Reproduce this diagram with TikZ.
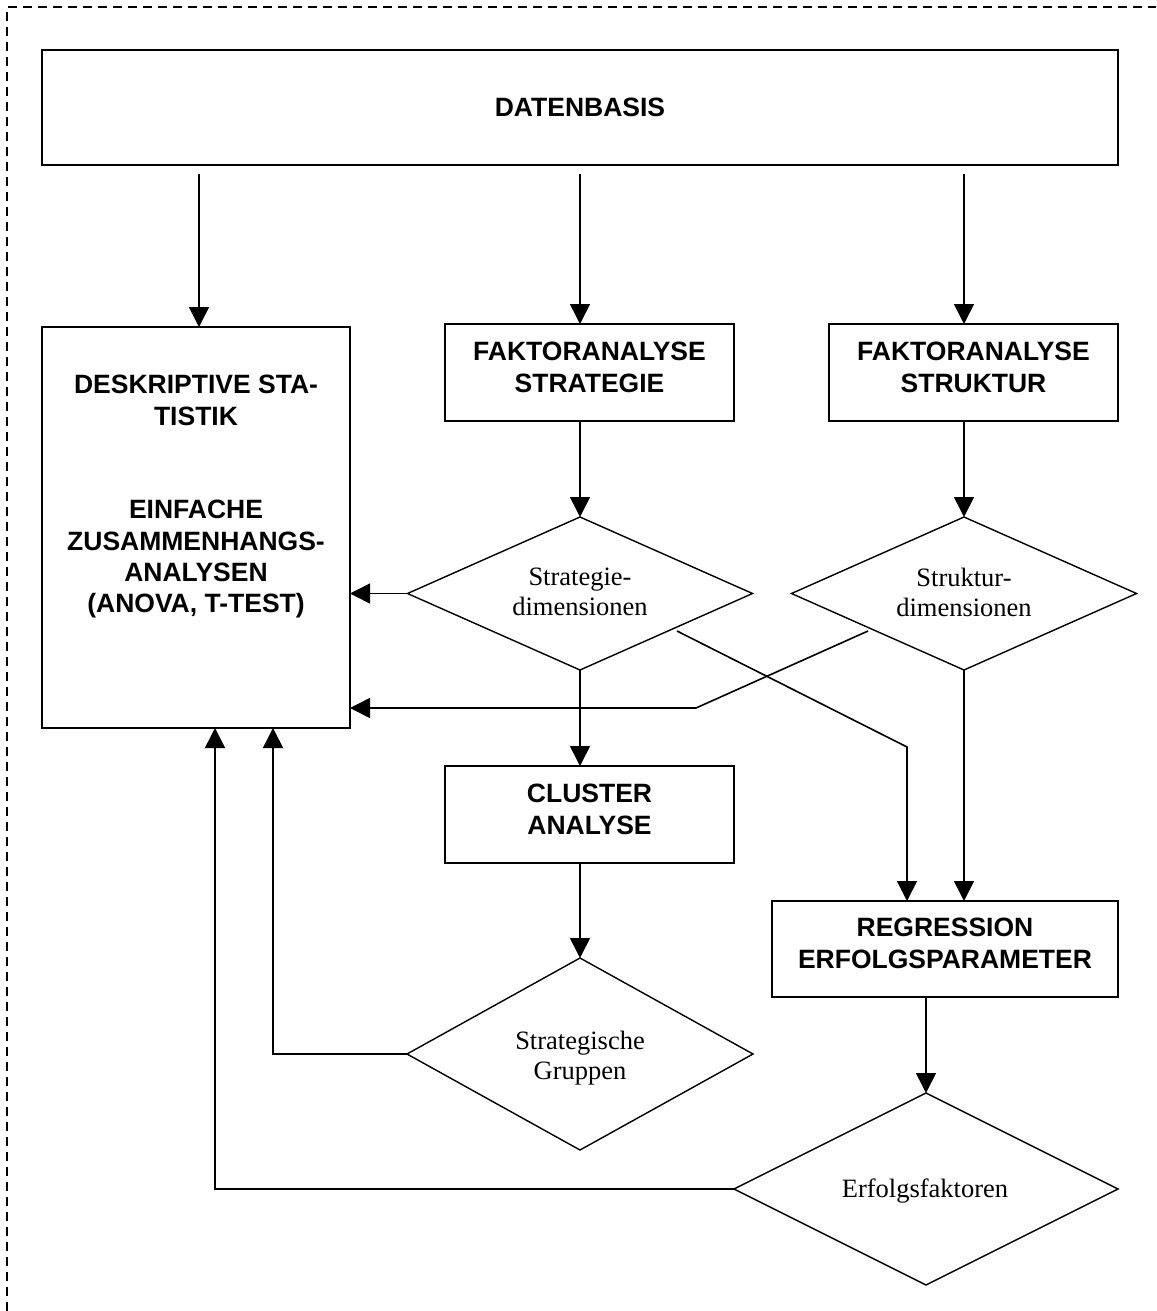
\documentclass[tikz,border=0pt]{standalone}
\usepackage{fontspec}
\setmainfont{Liberation Serif}
\newfontfamily\arialfont{Liberation Sans}
\usetikzlibrary{arrows.meta,shapes.geometric,calc}
\begin{document}
\begin{tikzpicture}[x=1pt,y=-1pt,
  box/.style={draw,rectangle,line width=1.8pt,inner sep=0pt,outer sep=0pt},
  dia/.style={draw,diamond,line width=1.4pt,inner sep=0pt,outer sep=0pt},
  btxt/.style={font=\arialfont\bfseries\fontsize{26.5}{31.3}\selectfont,align=center,inner sep=0pt,anchor=north},
  stxt/.style={font=\fontsize{26.5}{30}\selectfont,align=center,inner sep=0pt,anchor=north},
  arr/.style={line width=1.6pt,-{Triangle[length=20pt,width=20pt]}},
  frame/.style={line width=1.8pt,dash pattern=on 9pt off 6pt}]
\useasboundingbox (0,0) rectangle (1156,1311);
\draw[frame] (7,1311) -- (7,7) -- (1156,7);

% boxes
\node[box,minimum width=1076pt,minimum height=115pt] (db) at (580,107.5) {};
\node[box,minimum width=308pt,minimum height=401pt] (ds) at (196,527.5) {};
\node[box,minimum width=289pt,minimum height=97pt] (fs) at (589.5,372.5) {};
\node[box,minimum width=289pt,minimum height=97pt] (fst) at (973.5,372.5) {};
\node[box,minimum width=289pt,minimum height=97pt] (cl) at (589.5,814.5) {};
\node[box,minimum width=346pt,minimum height=96pt] (rg) at (945,949) {};

% diamonds
\node[dia,minimum width=345pt,minimum height=153pt] (sd) at (580,593.5) {};
\node[dia,minimum width=345pt,minimum height=153pt] (td) at (964,593.5) {};
\node[dia,minimum width=346pt,minimum height=192pt] (gd) at (580,1054) {};
\node[dia,minimum width=384pt,minimum height=192pt] (ed) at (926,1189) {};

% texts
\node[btxt] (tdb) at (580,98) {DATENBASIS};
\node[btxt] (tds) at (196,375) {DESKRIPTIVE STA-\\TISTIK\\[62.6pt]EINFACHE\\ZUSAMMENHANGS-\\ANALYSEN\\(ANOVA, T-TEST)};
\node[btxt] (tfs) at (589.5,342) {FAKTORANALYSE\\STRATEGIE};
\node[btxt] (tfst) at (973.5,342) {FAKTORANALYSE\\STRUKTUR};
\node[btxt] (tcl) at (589.5,784) {CLUSTER\\ANALYSE};
\node[btxt] (trg) at (945,918) {REGRESSION\\ERFOLGSPARAMETER};
\node[stxt] (tsd) at (580,568) {Strategie-\\dimensionen};
\node[stxt] (ttd) at (964,568) {Struktur-\\dimensionen};
\node[stxt] (tgd) at (580,1031) {Strategische\\Gruppen};
\node[stxt] (ted) at (925,1179) {Erfolgsfaktoren};

% connectors
\coordinate (o1) at (199,174);
\coordinate (o2) at (580,174);
\coordinate (o3) at (964,174);
\draw[arr] (o1) -- (o1 |- ds.north);
\draw[arr] (o2) -- (o2 |- fs.north);
\draw[arr] (o3) -- (o3 |- fst.north);
\draw[arr] (o2 |- fs.south) -- (sd.north);
\draw[arr] (o3 |- fst.south) -- (td.north);
\draw[arr] (sd.west) -- (sd.west -| ds.east);
\draw[arr] (sd.south) -- (sd.south |- cl.north);
\coordinate (t1) at (868,631);
\coordinate (t2) at (696,708);
\draw[arr] (t1) -- (t2) -- (t2 -| ds.east);
\coordinate (s1) at (677,631);
\coordinate (s2) at (907,747);
\draw[arr] (s1) -- (s2) -- (s2 |- rg.north);
\draw[arr] (td.south) -- (td.south |- rg.north);
\draw[arr] (gd.north |- cl.south) -- (gd.north);
\coordinate (g1) at (273,1054);
\draw[arr] (gd.west) -- (g1) -- (g1 |- ds.south);
\draw[arr] (ed.north |- rg.south) -- (ed.north);
\coordinate (e1) at (215,1189);
\draw[arr] (ed.west) -- (e1) -- (e1 |- ds.south);
\end{tikzpicture}
\end{document}
